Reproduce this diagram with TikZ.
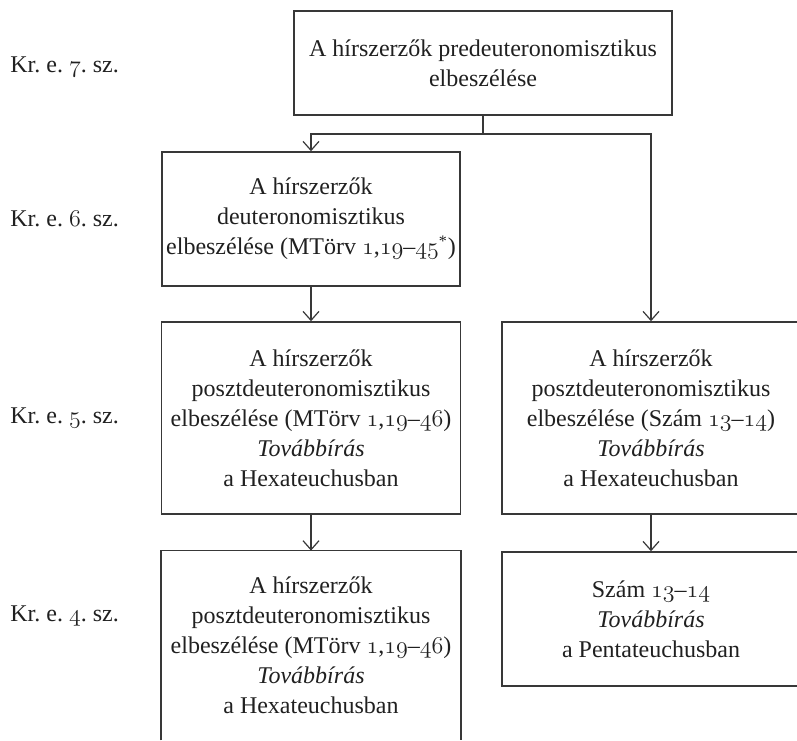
\documentclass[tikz,border=0pt]{standalone}
\usepackage{fontspec}
\setmainfont{Liberation Serif}
\usetikzlibrary{arrows.meta}
\newcommand{\os}[1]{$\mathnormal{#1}$}
\definecolor{ink}{HTML}{383838}
\definecolor{txt}{HTML}{202020}
\tikzset{
  box/.style={draw=ink, line width=0.75pt, align=center, inner sep=1pt,
    font=\fontsize{12}{15}\selectfont, text=txt},
  openbox/.style={draw=none, align=center, inner sep=1pt,
    font=\fontsize{12}{15}\selectfont, text=txt},
  era/.style={anchor=west, font=\fontsize{12}{15}\selectfont, text=txt, inner sep=0pt},
  conn/.style={draw=ink, line width=0.75pt},
  arr/.style={conn, -{Straight Barb[length=4.5pt,width=8pt,line width=0.6pt]}}
}
\begin{document}
\frenchspacing
\begin{tikzpicture}[x=0.5pt,y=-0.5pt]
\useasboundingbox (0,0) rectangle (797,740);
% era labels
\node[era] (e7) at (10,67) {Kr. e. \os{7}. sz.};
\node[era] (e6) at (10,219) {Kr. e. \os{6}. sz.};
\node[era] (e5) at (10,418) {Kr. e. \os{5}. sz.};
\node[era] (e4) at (10,616) {Kr. e. \os{4}. sz.};
% boxes
\node[box, minimum width=189pt, minimum height=52pt] (top) at (483,63)
  {A hírszerzők predeuteronomisztikus\\elbeszélése};
\node[box, minimum width=149pt, minimum height=67pt] (b2) at (311,219)
  {A hírszerzők\\deuteronomisztikus\\elbeszélése (MTörv \os{1},\os{19}–\os{45}\textsuperscript{*})};
\node[box, minimum width=149.5pt, minimum height=96pt] (b3l) at (311,418)
  {A hírszerzők\\posztdeuteronomisztikus\\elbeszélése (MTörv \os{1},\os{19}–\os{46})\\\textit{Továbbírás}\\a Hexateuchusban};
\node[box, minimum width=149pt, minimum height=96pt] (b3r) at (651,418)
  {A hírszerzők\\posztdeuteronomisztikus\\elbeszélése (Szám \os{13}–\os{14})\\\textit{Továbbírás}\\a Hexateuchusban};
\node[box, minimum width=149pt, minimum height=67pt] (b4r) at (651,619)
  {Szám \os{13}–\os{14}\\\textit{Továbbírás}\\a Pentateuchusban};
\node[openbox, minimum width=149.5pt, minimum height=94.5pt] (b4l) at (311,645.5)
  {A hírszerzők\\posztdeuteronomisztikus\\elbeszélése (MTörv \os{1},\os{19}–\os{46})\\\textit{Továbbírás}\\a Hexateuchusban};
\draw[conn] (b4l.south west) -- (b4l.north west) -- (b4l.north east) -- (b4l.south east);
% connectors
\draw[conn] (top.south) -- ++(0,18) coordinate (j);
\draw[arr] (j) -| (b2.north);
\draw[arr] (j) -| (b3r.north);
\draw[arr] (b2.south) -- (b3l.north);
\draw[arr] (b3l.south) -- (b4l.north);
\draw[arr] (b3r.south) -- (b4r.north);
\end{tikzpicture}
\end{document}
